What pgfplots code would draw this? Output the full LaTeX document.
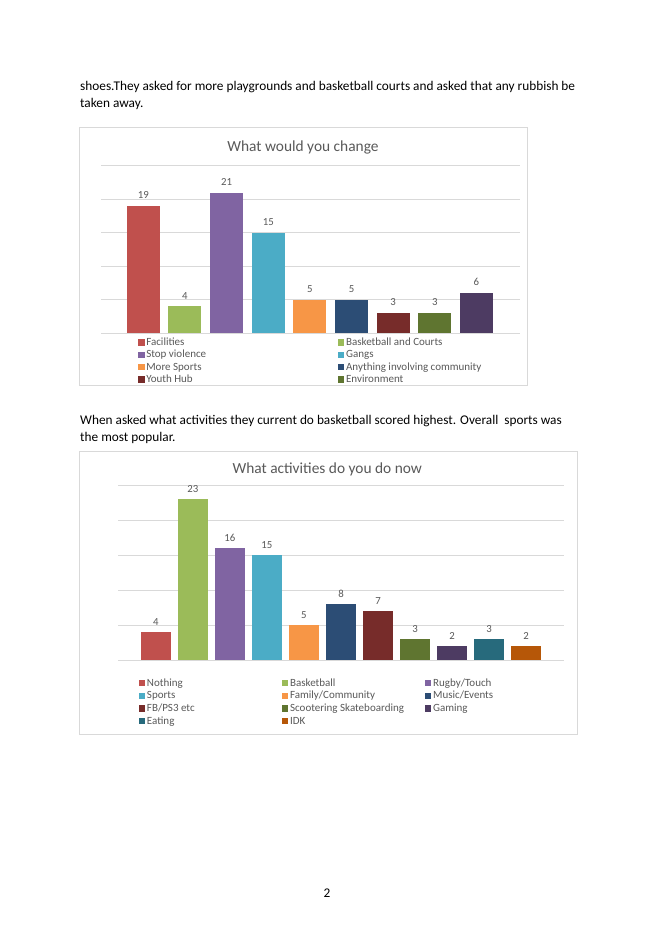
\documentclass[border=0pt]{standalone}
\usepackage{pgfplots}
\pgfplotsset{compat=1.18}
\usepackage{fontspec}
\setmainfont{Carlito}
\definecolor{c1}{HTML}{C0504D}
\definecolor{c2}{HTML}{9BBB59}
\definecolor{c3}{HTML}{8064A2}
\definecolor{c4}{HTML}{4BACC6}
\definecolor{c5}{HTML}{F79646}
\definecolor{c6}{HTML}{2C4D75}
\definecolor{c7}{HTML}{772C2A}
\definecolor{c8}{HTML}{5F7530}
\definecolor{c9}{HTML}{4D3B62}
\definecolor{c10}{HTML}{276A7C}
\definecolor{c11}{HTML}{B65708}
\definecolor{txtgray}{HTML}{595959}
\definecolor{gridgray}{HTML}{D9D9D9}

\pgfplotsset{
  pagebar/.style={
    scale only axis, anchor=south west,
    ymin=0, ymax=25,
    ytick={0,5,...,25}, yticklabels={}, xtick=\empty,
    ymajorgrids, grid style={draw=gridgray, line width=0.75pt},
    axis line style={draw=none}, major tick length=0pt,
    clip=false,
    /pgf/number format/assume math mode=true,
    nodes near coords,
    every node near coord/.append style={font=\fontsize{10.8}{12}\selectfont,
      text=txtgray, anchor=south, inner sep=0pt, yshift=7pt},
    legend image code/.code={\fill[##1] (0pt,-2pt) rectangle (6.4pt,4.4pt);},
    legend style={draw=none, fill=none, inner sep=0pt, anchor=north west,
      column sep=1.7pt, row sep=0pt,
      nodes={inner sep=0pt, text=txtgray, font=\fontsize{11}{12}\selectfont}},
    legend cell align=left,
  }
}

\begin{document}
\begin{tikzpicture}[x=1pt,y=1pt]
\fill[white] (0,0) rectangle (656,928);

% body text
\begin{scope}[every node/.style={anchor=base west, inner sep=0pt, font=\fontsize{13.3}{15}\selectfont}]
\node at (80,837) {shoes.They asked for more playgrounds and basketball courts and asked that any rubbish be};
\node at (80,820) {taken away.};
\node at (80,503) {When asked what activities they current do basketball scored highest. Overall\ \ sports was};
\node at (80,486) {the most popular.};
\end{scope}
\node[anchor=base, inner sep=0pt, font=\fontsize{13.3}{15}\selectfont] at (327,30) {2};

% chart 1 frame and title
\draw[gridgray, line width=0.8pt] (79,801) rectangle (527,543);
\node[anchor=base, inner sep=0pt, text=txtgray, font=\fontsize{15.4}{18}\selectfont] at (303,776.3) {What would you change};

\begin{axis}[pagebar,
  at={(101.3pt,594.7pt)}, width=418.4pt, height=167.6pt,
  xmin=-1.01, xmax=9.04,
  legend columns=2,
  legend style={at={(0.0877,-0.023)},
    nodes={text height=8.2pt, text depth=4.2pt}},
]
\addplot[ybar, bar width=33pt, fill=c1, draw=none] coordinates {(0,19)};
\addlegendentry{\makebox[190pt][l]{Facilities}}
\addplot[ybar, bar width=33pt, fill=c2, draw=none] coordinates {(1,4)};
\addlegendentry{Basketball and Courts}
\addplot[ybar, bar width=33pt, fill=c3, draw=none] coordinates {(2,21)};
\addlegendentry{\makebox[190pt][l]{Stop violence}}
\addplot[ybar, bar width=33pt, fill=c4, draw=none] coordinates {(3,15)};
\addlegendentry{Gangs}
\addplot[ybar, bar width=33pt, fill=c5, draw=none] coordinates {(4,5)};
\addlegendentry{\makebox[190pt][l]{More Sports}}
\addplot[ybar, bar width=33pt, fill=c6, draw=none] coordinates {(5,5)};
\addlegendentry{Anything involving community}
\addplot[ybar, bar width=33pt, fill=c7, draw=none] coordinates {(6,3)};
\addlegendentry{\makebox[190pt][l]{Youth Hub}}
\addplot[ybar, bar width=33pt, fill=c8, draw=none] coordinates {(7,3)};
\addlegendentry{Environment}
\addplot[ybar, bar width=33pt, fill=c9, draw=none, forget plot] coordinates {(8,6)};
\end{axis}

% chart 2 frame and title
\draw[gridgray, line width=0.8pt] (79.7,477) rectangle (577,194);
\node[anchor=base, inner sep=0pt, text=txtgray, font=\fontsize{15.4}{18}\selectfont] at (327.3,454) {What activities do you do now};

\begin{axis}[pagebar,
  at={(118pt,267.7pt)}, width=446pt, height=175pt,
  xmin=-1.02, xmax=11.02,
  legend columns=3,
  legend style={at={(0.0464,-0.1)},
    nodes={text height=8.3pt, text depth=4.37pt}},
]
\addplot[ybar, bar width=29.7pt, fill=c1, draw=none] coordinates {(0,4)};
\addlegendentry{\makebox[133.3pt][l]{Nothing}}
\addplot[ybar, bar width=29.7pt, fill=c2, draw=none] coordinates {(1,23)};
\addlegendentry{\makebox[133.3pt][l]{Basketball}}
\addplot[ybar, bar width=29.7pt, fill=c3, draw=none] coordinates {(2,16)};
\addlegendentry{Rugby/Touch}
\addplot[ybar, bar width=29.7pt, fill=c4, draw=none] coordinates {(3,15)};
\addlegendentry{\makebox[133.3pt][l]{Sports}}
\addplot[ybar, bar width=29.7pt, fill=c5, draw=none] coordinates {(4,5)};
\addlegendentry{\makebox[133.3pt][l]{Family/Community}}
\addplot[ybar, bar width=29.7pt, fill=c6, draw=none] coordinates {(5,8)};
\addlegendentry{Music/Events}
\addplot[ybar, bar width=29.7pt, fill=c7, draw=none] coordinates {(6,7)};
\addlegendentry{\makebox[133.3pt][l]{FB/PS3 etc}}
\addplot[ybar, bar width=29.7pt, fill=c8, draw=none] coordinates {(7,3)};
\addlegendentry{\makebox[133.3pt][l]{Scootering Skateboarding}}
\addplot[ybar, bar width=29.7pt, fill=c9, draw=none] coordinates {(8,2)};
\addlegendentry{Gaming}
\addplot[ybar, bar width=29.7pt, fill=c10, draw=none] coordinates {(9,3)};
\addlegendentry{\makebox[133.3pt][l]{Eating}}
\addplot[ybar, bar width=29.7pt, fill=c11, draw=none] coordinates {(10,2)};
\addlegendentry{IDK}
\end{axis}
\end{tikzpicture}
\end{document}
